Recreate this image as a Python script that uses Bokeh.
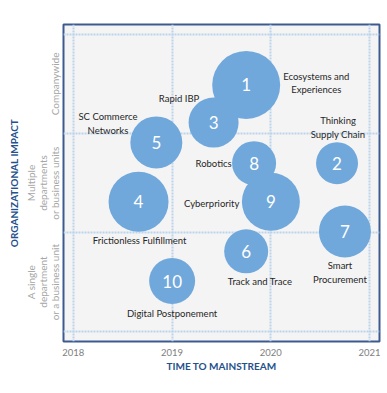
from bokeh.plotting import figure
from bokeh.models import ColumnDataSource, FixedTicker, Range1d, InlineStyleSheet
from bokeh.core.properties import value
from bokeh.embed import file_html
from bokeh.resources import INLINE

# ---- data ----
ids = ["1", "2", "3", "4", "5", "6", "7", "8", "9", "10"]
names = ["Ecosystems and\nExperiences", "Thinking\nSupply Chain", "Rapid IBP",
         "Frictionless Fulfillment", "SC Commerce\nNetworks", "Track and Trace",
         "Smart\nProcurement", "Robotics", "Cyberpriority", "Digital Postponement"]
time_to_mainstream = [2019.75, 2020.67, 2019.42, 2018.66, 2018.84, 2019.75, 2020.75, 2019.83, 2020.0, 2019.0]
org_impact = [2.49, 1.70, 2.11, 1.31, 1.91, 0.81, 1.01, 1.70, 1.31, 0.51]
bubble_size = [68, 42, 50, 60, 52, 44, 52, 44, 58, 46]
label_x = [2020.46, 2020.68, 2019.07, 2018.67, 2018.35, 2019.89, 2020.70, 2019.42, 2019.40, 2019.0]
label_y = [2.51, 2.06, 2.35, 0.92, 2.10, 0.51, 0.60, 1.70, 1.29, 0.18]

year_ticks = [2018, 2019, 2020, 2021]
impact_bounds = [0, 1, 2, 3]
impact_ticks = [0.5, 1.5, 2.5]
impact_labels = ["A single\ndepartment\nor a business unit",
                 "Multiple\ndepartments\nor business units",
                 "Companywide"]

src = ColumnDataSource(dict(x=time_to_mainstream, y=org_impact, s=bubble_size, id=ids))
lab = ColumnDataSource(dict(x=label_x, y=label_y, t=names))

css = InlineStyleSheet(css=":host { outline: 2px solid #a6a6a6; outline-offset: -4px; }")

p = figure(width=387, height=393, output_backend="svg", toolbar_location=None,
           x_range=Range1d(2017.9, 2021.1), y_range=Range1d(-0.1, 3.1),
           min_border_left=63, min_border_right=8, min_border_top=24, min_border_bottom=52,
           stylesheets=[css])

p.background_fill_color = "#f4f4f4"
p.border_fill_color = "white"
p.outline_line_color = "#3c5a8f"
p.outline_line_width = 2

# grid
p.xgrid.ticker = FixedTicker(ticks=year_ticks)
p.ygrid.ticker = FixedTicker(ticks=impact_bounds)
for g in (p.xgrid, p.ygrid):
    g.grid_line_color = "#bcd3ec"
    g.grid_line_dash = "2 1"
    g.grid_line_width = 2

# x axis
p.xaxis.ticker = FixedTicker(ticks=year_ticks)
p.xaxis.axis_line_color = None
p.xaxis.major_tick_line_color = None
p.xaxis.minor_tick_line_color = None
p.xaxis.major_label_standoff = 1
p.xaxis.major_label_text_color = "#808080"
p.xaxis.major_label_text_font = "Lato"
p.xaxis.major_label_text_font_size = "9.5px"
p.xaxis.axis_label = "TIME TO MAINSTREAM"
p.xaxis.axis_label_text_font = "Lato"
p.xaxis.axis_label_text_font_style = "bold"
p.xaxis.axis_label_text_font_size = "10px"
p.xaxis.axis_label_text_color = "#24508c"
p.xaxis.axis_label_standoff = 1

# y axis
p.yaxis.ticker = FixedTicker(ticks=impact_ticks)
p.yaxis.major_label_overrides = {t: l for t, l in zip(impact_ticks, impact_labels)}
p.yaxis.major_label_orientation = "vertical"
p.yaxis.axis_line_color = None
p.yaxis.major_tick_line_color = None
p.yaxis.minor_tick_line_color = None
p.yaxis.major_label_standoff = -3
p.yaxis.major_label_text_color = "#a6a6a6"
p.yaxis.major_label_text_font = "Lato"
p.yaxis.major_label_text_font_size = "10px"
p.yaxis.major_label_text_line_height = 1.0
p.yaxis.axis_label = "ORGANIZATIONAL IMPACT"
p.yaxis.axis_label_text_font = "Lato"
p.yaxis.axis_label_text_font_style = "bold"
p.yaxis.axis_label_text_font_size = "10px"
p.yaxis.axis_label_text_color = "#24508c"
p.yaxis.axis_label_standoff = 2

# bubbles
p.scatter("x", "y", size="s", source=src, fill_color="#70a8dc", line_color=None)
p.text("x", "y", text="id", source=src, text_color="white", text_align="center",
       text_baseline="middle", text_font=value("Lato"), text_font_size="17px")
p.text("x", "y", text="t", source=lab, text_color="#262626", text_align="center",
       text_baseline="middle", text_font=value("Lato"), text_font_size="9.5px",
       text_line_height=1.25)

open("out.html", "w").write(file_html(p, INLINE))
